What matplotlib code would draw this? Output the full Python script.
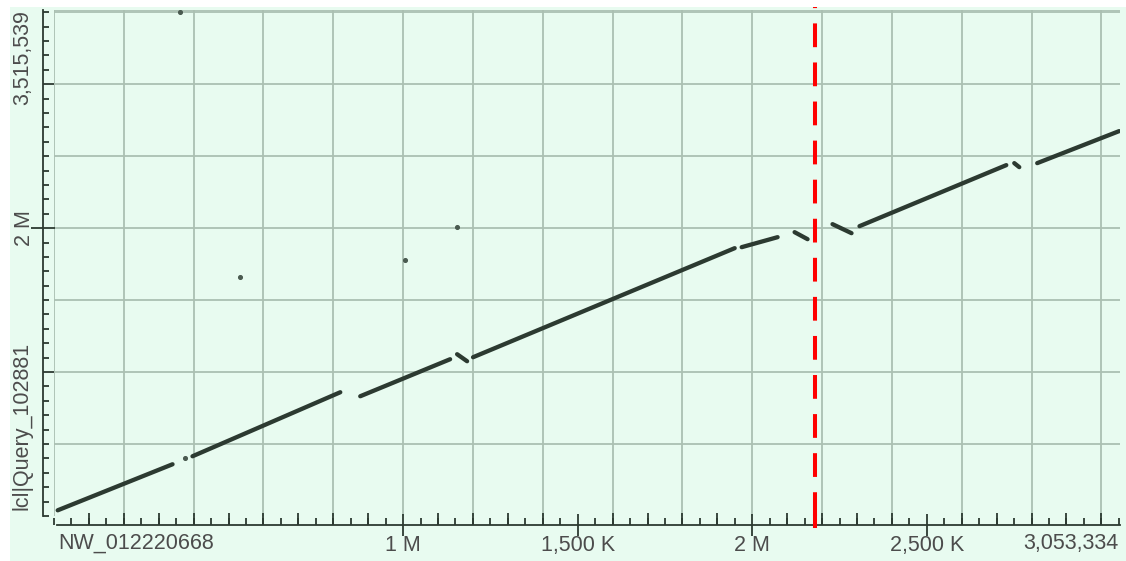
import matplotlib
matplotlib.use("Agg")
import matplotlib.pyplot as plt
from matplotlib.patches import Rectangle
from matplotlib.ticker import MultipleLocator, FixedLocator

# Longueurs des deux séquences
subject_len = 3053334
query_len = 3515539
subject_name = "NW_012220668"
query_name = "lcl|Query_102881"

# Segments d'alignement : début/fin sur le sujet (x) et sur la requête (y)
seg_x0 = [10600, 396700, 877200, 1154600, 1200300, 1969700, 2121300, 2229900, 2307200, 2750500, 2816200]
seg_x1 = [339500, 820000, 1134600, 1183200, 1949700, 2072600, 2158400, 2284300, 2727600, 2764800, 3050800]
seg_y0 = [39600, 415000, 832000, 1124000, 1103100, 1867700, 1972000, 2027600, 2013700, 2451600, 2451600]
seg_y1 = [359400, 859800, 1089200, 1075300, 1860800, 1937200, 1923300, 1965000, 2437700, 2423800, 2674000]

# Petits hits isolés
dot_x = [359500, 373800, 534000, 1005900, 1154600]
dot_y = [3505000, 401100, 1659200, 1777400, 2006800]

# Position marquée en rouge
marker_pos = 2180000

x_major = [1000000, 1500000, 2000000, 2500000]
x_labels = ["1 M", "1,500 K", "2 M", "2,500 K"]
y_major = [1000000, 2000000, 3000000]
y_labels = ["", "2 M", ""]

bg = "#e8fbf0"
grid_col = "#abc0b2"
ink = "#2c3a31"
txt = "#4c4c4c"
fs = 15.5
plt.rcParams["font.family"] = ["Liberation Sans", "DejaVu Sans"]

fig = plt.figure(figsize=(11.26, 5.61), dpi=100)
fig.patch.set_facecolor("white")
fig.patches.append(Rectangle((10 / 1126, 0), 1, 554 / 561, transform=fig.transFigure,
                             facecolor=bg, edgecolor="none", zorder=-10))

ax = fig.add_axes([54 / 1126, 45 / 561, 1066 / 1126, 506 / 561])
ax.set_facecolor(bg)
ax.set_xlim(0, subject_len)
ax.set_ylim(0, query_len)

# grille
ax.xaxis.set_minor_locator(MultipleLocator(50000))
ax.yaxis.set_minor_locator(MultipleLocator(100000))
for gx in range(0, subject_len, 200000):
    ax.axvline(gx, color=grid_col, lw=1.3, zorder=0)
for gy in range(500000, query_len, 500000):
    ax.axhline(gy, color=grid_col, lw=1.3, zorder=0)
ax.axhline(query_len, color=grid_col, lw=1.3, zorder=0)

# les hits
for x0, x1, y0, y1 in zip(seg_x0, seg_x1, seg_y0, seg_y1):
    ax.plot([x0, x1], [y0, y1], color=ink, lw=3.1, solid_capstyle="round", zorder=3)
ax.scatter(dot_x, dot_y, s=7, color="#4a5a50", zorder=3)

ax.axvline(marker_pos, ymin=0, ymax=1.006, color="#ff0000", lw=2.9,
           dashes=(5.9, 3.8), clip_on=False, zorder=4)
ax.plot([marker_pos, marker_pos], [0, -0.019 * query_len], color="#ff0000", lw=2.9,
        clip_on=False, zorder=4)

# axes
for s in ["top", "right"]:
    ax.spines[s].set_visible(False)
ax.spines["left"].set_position(("outward", 8))
ax.spines["bottom"].set_position(("outward", 6.5))
ax.spines["bottom"].set_bounds(8000, subject_len)
for s in ["left", "bottom"]:
    ax.spines[s].set_color(ink)
    ax.spines[s].set_linewidth(1.3)

ax.set_xticks(x_major)
ax.set_xticklabels(x_labels)
ax.set_yticks(y_major)
ax.set_yticklabels(y_labels, rotation=90, va="center")
ax.tick_params(axis="x", which="major", direction="inout", length=16, width=1.3,
               color=ink, labelcolor=txt, labelsize=fs, pad=-1)
ax.tick_params(axis="x", which="minor", direction="in", length=5, width=1.3, color=ink)
ax.tick_params(axis="y", which="major", direction="in", length=8, width=1.3,
               color=ink, labelcolor=txt, labelsize=fs, pad=6)
ax.tick_params(axis="y", which="minor", direction="in", length=4.5, width=1.3, color=ink)

# la graduation étiquetée "2 M" traverse l'axe
t2 = ax.yaxis.get_major_ticks()[1]
t2.tick1line.set_marker("_")
t2.tick1line.set_markersize(17)

# graduations intermédiaires tous les 100 K
sec = ax.secondary_xaxis("bottom")
sec.spines["bottom"].set_visible(False)
sec.spines["bottom"].set_position(("outward", 6.5))
sec.xaxis.set_major_locator(FixedLocator([v for v in range(100000, subject_len, 100000)
                                          if v not in x_major]))
sec.tick_params(direction="in", length=8.5, width=1.3, color=ink, labelbottom=False)

# étiquettes des extrémités
ax.annotate(subject_name, xy=(0, 0), xycoords=("data", "axes fraction"),
            xytext=(4, -17), textcoords="offset pixels", ha="left", va="top",
            fontsize=fs, color=txt)
ax.annotate(f"{subject_len:,}", xy=(subject_len, 0), xycoords=("data", "axes fraction"),
            xytext=(-2, -17), textcoords="offset pixels", ha="right", va="top",
            fontsize=fs, color=txt)
ax.annotate(f"{query_len:,}", xy=(0, query_len), xycoords=("axes fraction", "data"),
            xytext=(-21, 0), textcoords="offset pixels", ha="right", va="top",
            rotation=90, fontsize=fs, color=txt)
ax.annotate(query_name, xy=(0, 0), xycoords=("axes fraction", "data"),
            xytext=(-21, 6), textcoords="offset pixels", ha="right", va="bottom",
            rotation=90, fontsize=fs, color=txt)

fig.savefig("out.png", dpi=100)
